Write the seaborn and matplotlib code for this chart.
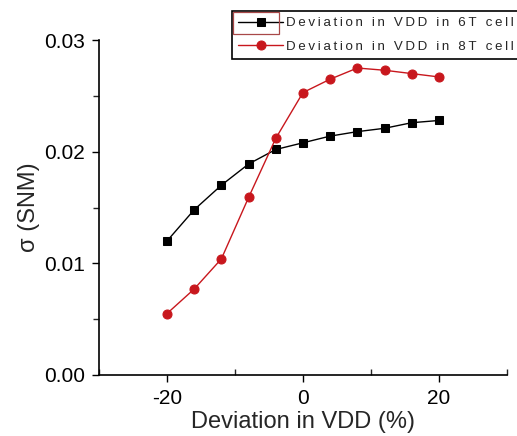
import numpy as np
import pandas as pd
import seaborn as sns
import matplotlib.pyplot as plt
from matplotlib.ticker import MultipleLocator
from matplotlib.patches import Rectangle

sns.set_style('ticks')
plt.rcParams['font.family'] = ['Liberation Sans', 'DejaVu Sans']
plt.rcParams['axes.unicode_minus'] = False

# values
vdd_dev = [-20, -16, -12, -8, -4, 0, 4, 8, 12, 16, 20]
sigma_6t = [0.0120, 0.0148, 0.0170, 0.0189, 0.0202, 0.0208, 0.0214, 0.0218, 0.0221, 0.0226, 0.0228]
sigma_8t = [0.0055, 0.0077, 0.0104, 0.0159, 0.0212, 0.0253, 0.0265, 0.0275, 0.0273, 0.0270, 0.0267]
labels = ['Deviation in VDD in 6T cell', 'Deviation in VDD in 8T cell']

df = pd.DataFrame({'dev': vdd_dev, 'six': sigma_6t, 'eight': sigma_8t})

fig = plt.figure(figsize=(5.17, 4.36), dpi=100)
ax = fig.add_axes([0.1915, 0.140, 0.789, 0.768])

# letter-spaced legend text, like the original
spaced = ['\u2009'.join(s) for s in labels]

sns.lineplot(data=df, x='dev', y='six', ax=ax, color='black', lw=1,
             marker='s', markersize=5.5, markeredgecolor='black', label=spaced[0])
sns.lineplot(data=df, x='dev', y='eight', ax=ax, color='#c8171d', lw=1,
             marker='o', markersize=6.5, markeredgecolor='#c8171d', label=spaced[1])

ax.set_xlim(-30, 30)
ax.set_ylim(0, 0.03)
ax.xaxis.set_major_locator(MultipleLocator(20))
ax.xaxis.set_minor_locator(MultipleLocator(10))
ax.yaxis.set_major_locator(MultipleLocator(0.01))
ax.yaxis.set_minor_locator(MultipleLocator(0.005))
ax.yaxis.set_major_formatter(plt.FuncFormatter(lambda v, p: f'{v:.2f}'))

ax.tick_params(axis='both', which='major', direction='out', length=5, width=1,
               labelsize=15, colors='black')
ax.tick_params(axis='y', which='major', pad=5)
ax.tick_params(axis='x', which='major', pad=5)
ax.tick_params(axis='x', which='minor', direction='in', length=4, width=1)
ax.tick_params(axis='y', which='minor', direction='out', length=4, width=1)

for side in ['top', 'right']:
    ax.spines[side].set_visible(False)
for side in ['left', 'bottom']:
    ax.spines[side].set_linewidth(1.2)
    ax.spines[side].set_color('black')

ax.set_xlabel('Deviation in VDD (%)', fontsize=17, labelpad=2)
ax.set_ylabel('\u03c3 (SNM)', fontsize=17, labelpad=3)

leg = ax.legend(loc='upper left', bbox_to_anchor=(0.326, 1.087), fontsize=9.6,
                frameon=True, fancybox=False, edgecolor='black', framealpha=1,
                handlelength=3.4, handletextpad=0.2, borderpad=0.45,
                labelspacing=0.85, borderaxespad=0)
leg.get_frame().set_linewidth(1.2)
leg.set_clip_on(False)

# the reddish selection box round the first legend key in the original
ax.add_patch(Rectangle((0.328, 1.018), 0.113, 0.066, transform=ax.transAxes,
                       fill=False, edgecolor='#a84848', lw=0.9, clip_on=False, zorder=10))

fig.savefig('out.png', dpi=100)
